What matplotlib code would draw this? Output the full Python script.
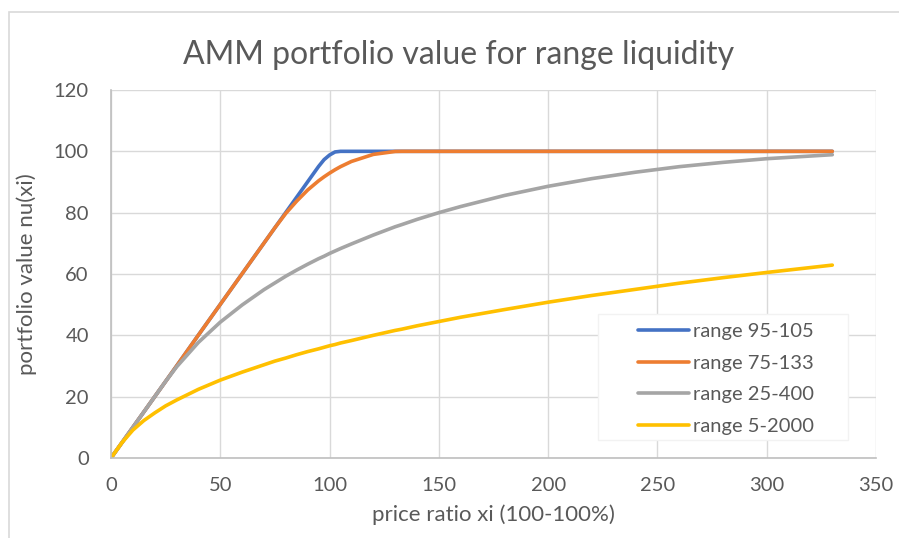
import matplotlib.pyplot as plt
from matplotlib.patches import Rectangle

# price ratio xi (%)
xi = [0, 5, 10, 15, 20, 25, 30, 40, 50, 60, 70, 75, 80, 85, 90, 95, 97.5, 100, 102.5, 105,
      110, 120, 130, 133, 140, 150, 160, 180, 200, 220, 240, 260, 280, 300, 330]

r95_105 = [0, 5, 10, 15, 20, 25, 30, 40.1, 50.1, 60.1, 70.1, 75.1, 80.1, 85.1, 90.1, 95.1,
           97.3, 98.8, 99.8, 100, 100, 100, 100, 100, 100, 100, 100, 100, 100, 100, 100, 100,
           100, 100, 100]
r75_133 = [0, 5, 10, 15, 20, 25, 30, 40.1, 50.1, 60.1, 70.1, 75.1, 79.8, 83.8, 87.4, 90.4,
           91.7, 92.9, 94.0, 95.0, 96.7, 99.0, 99.96, 100, 100, 100, 100, 100, 100, 100, 100,
           100, 100, 100, 100]
r25_400 = [0, 5, 10, 15, 20, 25, 29.7, 37.7, 44.3, 49.9, 54.9, 57.1, 59.3, 61.3, 63.2, 65.0,
           65.8, 66.7, 67.5, 68.3, 69.8, 72.7, 75.4, 76.1, 77.8, 80.0, 82.0, 85.6, 88.6, 91.1,
           93.2, 95.0, 96.4, 97.6, 98.9]
r5_2000 = [0, 5, 9.1, 12.2, 14.7, 17.0, 18.9, 22.4, 25.4, 28.0, 30.4, 31.6, 32.6, 33.7, 34.7,
           35.6, 36.1, 36.6, 37.0, 37.5, 38.3, 40.0, 41.6, 42.0, 43.1, 44.5, 45.9, 48.4, 50.8,
           53.0, 55.0, 57.0, 58.8, 60.5, 62.9]

labels = ["range 95-105", "range 75-133", "range 25-400", "range 5-2000"]
colors = ["#4472C4", "#ED7D31", "#A5A5A5", "#FFC000"]

plt.rcParams['font.family'] = ['Lato', 'DejaVu Sans']
txt = "#595959"

fig = plt.figure(figsize=(8.99, 5.38), dpi=100)
ax = fig.add_axes([111 / 899, 1 - 458 / 538, 765 / 899, 368 / 538])

for ys, lab, c in zip([r95_105, r75_133, r25_400, r5_2000], labels, colors):
    ax.plot(xi, ys, color=c, lw=2.6, label=lab, solid_capstyle="round",
            solid_joinstyle="round")

ax.set_xlim(0, 350)
ax.set_ylim(0, 120)
ax.set_xticks(range(0, 351, 50))
ax.set_yticks(range(0, 121, 20))
ax.grid(True, color="#D9D9D9", lw=1.0)
ax.set_axisbelow(True)
for s in ["top", "right"]:
    ax.spines[s].set_visible(False)
for s in ["left", "bottom"]:
    ax.spines[s].set_color("#BFBFBF")
    ax.spines[s].set_linewidth(1.2)
ax.tick_params(length=0, labelsize=14.5, colors=txt)
ax.tick_params(axis="x", pad=14)
ax.tick_params(axis="y", pad=16)

ax.set_xlabel("price ratio xi (100-100%)", fontsize=16, color=txt, labelpad=7)
ax.set_ylabel("portfolio value nu(xi)", fontsize=16, color=txt, labelpad=12)

fig.text(459 / 899, 1 - 55 / 538, "AMM portfolio value for range liquidity",
         ha="center", va="center", fontsize=23, color=txt)

# legend box (Excel style: wide padding)
ax.add_patch(Rectangle(((598 - 111) / 765, (458 - 440) / 368), 250 / 765, 126 / 368,
                       transform=ax.transAxes, facecolor="white", edgecolor="#F2F2F2",
                       lw=1.0, zorder=4))
leg = ax.legend(loc="upper left", bbox_to_anchor=((638 - 111) / 765, (458 - 323) / 368),
                fontsize=14.5, frameon=False, handlelength=2.55, labelspacing=0.72,
                borderpad=0, handletextpad=0.2, borderaxespad=0)
leg.set_zorder(5)
for t in leg.get_texts():
    t.set_color(txt)

# chart area border
fig.patches.append(Rectangle((9 / 899, -0.1), 1.2, 1.1 - 12 / 538, transform=fig.transFigure,
                             fill=False, edgecolor="#D9D9D9", lw=1.2))

fig.savefig("out.png", dpi=100)
